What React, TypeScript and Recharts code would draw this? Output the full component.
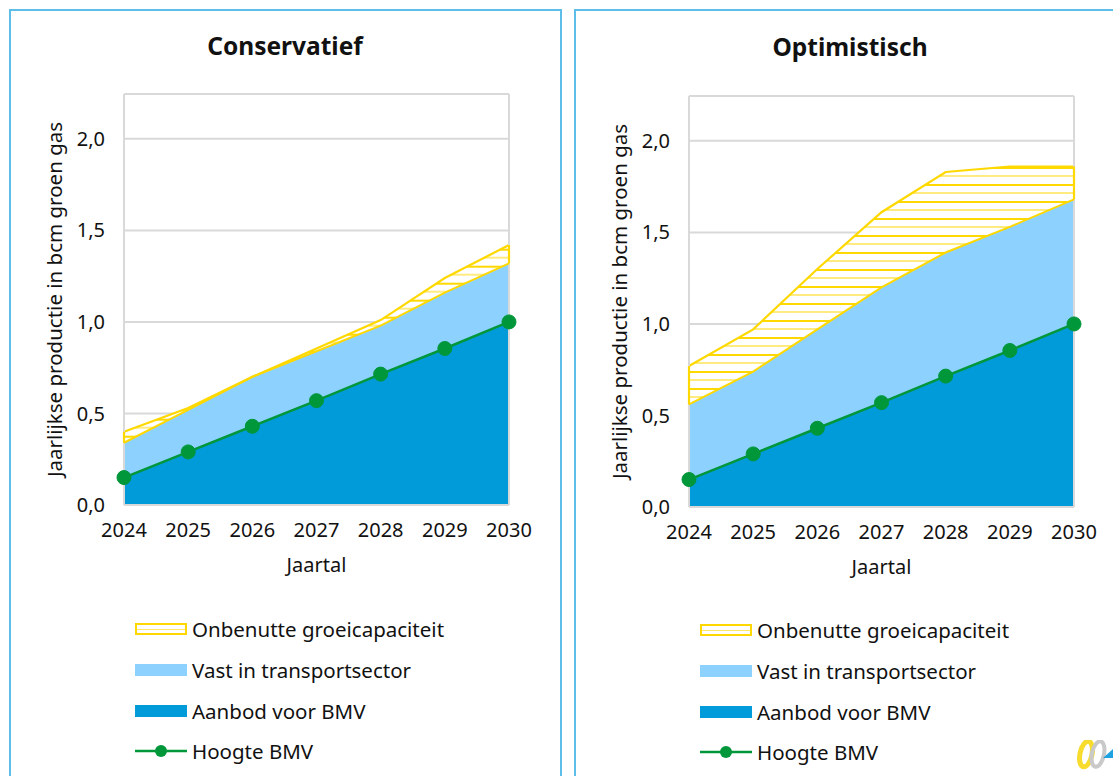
import { Area, CartesianGrid, ComposedChart, Label, Line, ReferenceLine, XAxis, YAxis } from 'recharts';

const years = ['2024', '2025', '2026', '2027', '2028', '2029', '2030'];
const yTicks = [0, 0.5, 1, 1.5, 2];
const legendLabels = ['Onbenutte groeicapaciteit', 'Vast in transportsector', 'Aanbod voor BMV', 'Hoogte BMV'];

// Hoogte BMV is the same in both scenarios
const hoogteBmv = [0.15, 0.29, 0.43, 0.57, 0.715, 0.855, 1.0];

const consAanbod = [0.15, 0.29, 0.43, 0.57, 0.715, 0.855, 1.0];
const consVast = [0.19, 0.23, 0.27, 0.27, 0.265, 0.305, 0.32];
const consOnbenut = [0.06, 0.01, 0.0, 0.015, 0.03, 0.08, 0.1];

const optAanbod = [0.15, 0.29, 0.43, 0.57, 0.715, 0.855, 1.0];
const optVast = [0.41, 0.45, 0.54, 0.63, 0.675, 0.675, 0.68];
const optOnbenut = [0.21, 0.23, 0.33, 0.41, 0.44, 0.33, 0.18];

const FONT = '"Noto Sans", sans-serif';
const TEXT = '#111111';
const YELLOW = '#FFD800';
const LIGHT_BLUE = '#8DD2FF';
const BLUE = '#009BD8';
const GREEN = '#00963A';
const GRID = '#D9D9D9';
const BORDER = '#5DBEE9';

function fmt(v: number) {
  return v.toFixed(1).replace('.', ',');
}

function buildRows(aanbod: number[], vast: number[], onbenut: number[]) {
  return years.map((year, i) => ({
    year,
    aanbod: aanbod[i],
    vast: vast[i],
    onbenut: onbenut[i],
    vastTop: aanbod[i] + vast[i],
    bmv: hoogteBmv[i],
  }));
}

function LegendSwatch({ index }: { index: number }) {
  if (index === 0) {
    return (
      <div style={{ width: 48, height: 8, border: `2px solid ${YELLOW}`, position: 'relative' }}>
        <div style={{ position: 'absolute', left: 0, right: 0, top: 4, height: 1, background: YELLOW, opacity: 0.6 }} />
      </div>
    );
  }
  if (index === 3) {
    return (
      <svg width={52} height={14} style={{ display: 'block' }}>
        <line x1={0} x2={52} y1={7} y2={7} stroke={GREEN} strokeWidth={2.5} />
        <circle cx={26} cy={7} r={6} fill={GREEN} />
      </svg>
    );
  }
  return <div style={{ width: 52, height: 12, background: index === 1 ? LIGHT_BLUE : BLUE }} />;
}

function LegendBox({ top }: { top: number }) {
  return (
    <div style={{ position: 'absolute', left: 135, top, fontFamily: FONT, fontSize: 20.5, color: TEXT }}>
      {legendLabels.map((label, i) => (
        <div key={label} style={{ display: 'flex', alignItems: 'center', height: 40.7, whiteSpace: 'nowrap' }}>
          <div style={{ width: 57, display: 'flex' }}>
            <LegendSwatch index={i} />
          </div>
          <span>{label}</span>
        </div>
      ))}
    </div>
  );
}

interface PanelProps {
  id: string;
  title: string;
  left: number;
  offsetY: number;
  hatchY: number;
  rows: ReturnType<typeof buildRows>;
}

function Panel({ id, title, left, offsetY, hatchY, rows }: PanelProps) {
  const last = rows[rows.length - 1];
  const first = rows[0];
  return (
    <div style={{ position: 'absolute', left, top: 0, width: 565, height: 776 }}>
      <div
        style={{
          position: 'absolute',
          left: 9,
          top: 9,
          width: 553,
          height: 800,
          border: `2px solid ${BORDER}`,
          boxSizing: 'border-box',
        }}
      />
      <div
        style={{
          position: 'absolute',
          left: 9,
          width: 552,
          top: 30 + offsetY / 2,
          textAlign: 'center',
          fontFamily: FONT,
          fontSize: 24.5,
          fontWeight: 700,
          color: TEXT,
          lineHeight: '32px',
        }}
      >
        {title}
      </div>
      <ComposedChart
        width={565}
        height={776}
        data={rows}
        margin={{ top: 94 + offsetY, right: 56, bottom: 221 - offsetY, left: 64 }}
        style={{ position: 'absolute', left: 0, top: 0 }}
      >
        <defs>
          <pattern id={`hatch-${id}`} patternUnits="userSpaceOnUse" width={17} height={17} y={hatchY}>
            <rect x={0} y={0} width={17} height={17} fill="#FFFFFF" />
            <rect x={0} y={0} width={17} height={2} fill={YELLOW} />
            <rect x={0} y={8.5} width={17} height={1} fill={YELLOW} />
          </pattern>
        </defs>
        <CartesianGrid vertical={false} stroke={GRID} strokeWidth={2} />
        <ReferenceLine y={2.245} stroke={GRID} strokeWidth={2} />
        <ReferenceLine x="2024" stroke={GRID} strokeWidth={2} />
        <ReferenceLine x="2030" stroke={GRID} strokeWidth={2} />
        <XAxis
          dataKey="year"
          scale="point"
          padding={{ left: 0, right: 0 }}
          height={50}
          tickLine={false}
          axisLine={{ stroke: GRID, strokeWidth: 2 }}
          tickMargin={12}
          interval={0}
          tick={{ fontFamily: FONT, fontSize: 20, fill: TEXT }}
        >
          <Label value="Jaartal" position="insideBottom" offset={-17} style={{ fontFamily: FONT, fontSize: 20, fill: TEXT }} />
        </XAxis>
        <YAxis
          width={60}
          domain={[0, 2.245]}
          ticks={yTicks}
          tickFormatter={fmt}
          tickLine={false}
          axisLine={false}
          tickMargin={13}
          tick={{ fontFamily: FONT, fontSize: 20, fill: TEXT }}
        >
          <Label
            value="Jaarlijkse productie in bcm groen gas"
            angle={-90}
            position="insideLeft"
            offset={-9}
            style={{ textAnchor: 'middle', fontFamily: FONT, fontSize: 20.5, fill: TEXT }}
          />
        </YAxis>
        <Area
          type="linear"
          dataKey="aanbod"
          stackId="a"
          stroke="none"
          fill={BLUE}
          fillOpacity={1}
          isAnimationActive={false}
          dot={false}
          activeDot={false}
        />
        <Area
          type="linear"
          dataKey="vast"
          stackId="a"
          stroke="none"
          fill={LIGHT_BLUE}
          fillOpacity={1}
          isAnimationActive={false}
          dot={false}
          activeDot={false}
        />
        <Area
          type="linear"
          dataKey="onbenut"
          stackId="a"
          stroke={YELLOW}
          strokeWidth={2.2}
          fill={`url(#hatch-${id})`}
          fillOpacity={1}
          isAnimationActive={false}
          dot={false}
          activeDot={false}
        />
        {/* lower edge of the hatched band */}
        <Line
          type="linear"
          dataKey="vastTop"
          stroke={YELLOW}
          strokeWidth={2}
          dot={false}
          activeDot={false}
          isAnimationActive={false}
        />
        <ReferenceLine
          segment={[
            { x: '2030', y: last.vastTop },
            { x: '2030', y: last.vastTop + last.onbenut },
          ]}
          stroke={YELLOW}
          strokeWidth={2.2}
        />
        <ReferenceLine
          segment={[
            { x: '2024', y: first.vastTop },
            { x: '2024', y: first.vastTop + first.onbenut },
          ]}
          stroke={YELLOW}
          strokeWidth={2.2}
        />
        <Line
          type="linear"
          dataKey="bmv"
          stroke={GREEN}
          strokeWidth={2.5}
          dot={{ r: 7, fill: GREEN, stroke: GREEN, strokeWidth: 1 }}
          activeDot={false}
          isAnimationActive={false}
        />
      </ComposedChart>
      <LegendBox top={609 + offsetY / 2} />
    </div>
  );
}

function Logo() {
  return (
    <svg width={36} height={30} style={{ position: 'absolute', left: 1077, top: 740 }}>
      <ellipse cx={9} cy={14} rx={6} ry={13} fill="none" stroke="#F7DC2E" strokeWidth={5} transform="rotate(12 9 14)" />
      <ellipse cx={21} cy={14} rx={6} ry={13} fill="none" stroke="#C9C9C9" strokeWidth={4} transform="rotate(12 21 14)" />
      <polygon points="26,18 36,18 36,9" fill="#1FA3E0" />
    </svg>
  );
}

export default function App() {
  return (
    <div style={{ position: 'fixed', left: 0, top: 0, width: 1113, height: 776, overflow: 'hidden', background: '#FFFFFF' }}>
      <Panel id="cons" title="Conservatief" left={0} offsetY={0} hatchY={10.7} rows={buildRows(consAanbod, consVast, consOnbenut)} />
      <Panel id="opt" title="Optimistisch" left={565} offsetY={2} hatchY={14} rows={buildRows(optAanbod, optVast, optOnbenut)} />
      <Logo />
    </div>
  );
}
